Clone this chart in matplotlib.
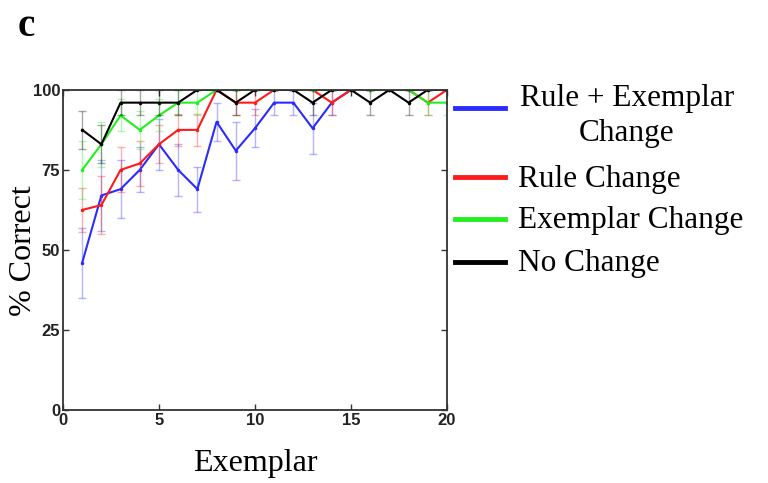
import numpy as np
import matplotlib.pyplot as plt
from matplotlib.lines import Line2D

# Data
exemplar = np.arange(1, 21)

rule_exemplar = [46, 67, 69, 75, 83, 75, 69, 90, 81, 88, 96, 96, 88, 96, 100, 100, 100, 100, 100, 100]
rule_exemplar_err = [11, 11, 9, 7, 8, 8, 7, 6, 9, 6, 4, 4, 8, 4, 0, 0, 0, 0, 0, 0]

rule = [62.5, 64, 75, 77, 83, 87.5, 87.5, 100, 96, 96, 100, 100, 100, 96, 100, 100, 100, 100, 96, 100]
rule_err = [7, 9, 7, 7, 6, 5, 5, 0, 4, 4, 0, 0, 0, 4, 0, 0, 0, 0, 4, 0]

exemplar_only = [75, 83, 92, 87.5, 92, 96, 96, 100, 100, 100, 100, 100, 100, 100, 100, 100, 100, 100, 96, 96]
exemplar_only_err = [9, 7, 5, 6, 5, 4, 4, 0, 0, 0, 0, 0, 0, 0, 0, 0, 0, 0, 4, 4]

no_change = [87.5, 83, 96, 96, 96, 96, 100, 100, 96, 100, 100, 100, 96, 100, 100, 96, 100, 96, 100, 100]
no_change_err = [6, 6, 4, 4, 4, 4, 0, 0, 4, 0, 0, 0, 4, 0, 0, 4, 0, 4, 0, 0]

series = [
    (rule_exemplar, rule_exemplar_err, '#2b2bff', 'Rule + Exemplar\nChange'),
    (rule, rule_err, '#ff1a1a', 'Rule Change'),
    (exemplar_only, exemplar_only_err, '#22ee22', 'Exemplar Change'),
    (no_change, no_change_err, 'black', 'No Change'),
]

fig = plt.figure(figsize=(7.68, 4.83), dpi=100)
ax = fig.add_axes([0.082, 0.151, 0.5, 0.663])

for vals, err, col, lab in series:
    ax.errorbar(exemplar, vals, yerr=err, fmt='none', ecolor=col, alpha=0.35,
                capsize=3, elinewidth=1)
    ax.plot(exemplar, vals, color=col, lw=1.5, marker='.', ms=3)

ax.set_xlim(0, 20)
ax.set_ylim(0, 100)
ax.set_xticks([0, 5, 10, 15, 20])
ax.set_yticks([0, 25, 50, 75, 100])
ax.tick_params(direction='in', top=True, right=True, length=4, width=1,
               labelsize=12, pad=2, colors='#333333')
for lbl in ax.get_xticklabels() + ax.get_yticklabels():
    lbl.set_family('Liberation Sans')
    lbl.set_fontweight('semibold')
    lbl.set_color('#222222')
for s in ax.spines.values():
    s.set_linewidth(1.3)
    s.set_color('#333333')

W, H = 768, 483
# axis labels
fig.text(255 / W, 1 - 464 / H, 'Exemplar', family='Liberation Serif',
         fontsize=23, ha='center', va='center')
fig.text(24 / W, 1 - 251 / H, '% Correct', family='Liberation Serif',
         fontsize=23, ha='center', va='center', rotation=90)

# panel letter
fig.text(26 / W, 1 - 27 / H, 'c', family='Liberation Serif', fontsize=28,
         fontweight='bold', ha='center', va='center')

# legend drawn by hand
leg_y = [108, 177, 219, 262]
txt_y = [116, 180, 221, 264]
for (vals, err, col, lab), ly, ty in zip(series, leg_y, txt_y):
    fig.add_artist(Line2D([455 / W, 505 / W], [1 - ly / H, 1 - ly / H],
                          color=col, lw=3.5))
    if '\n' in lab:
        fig.text(627 / W, 1 - ty / H, lab, family='Liberation Serif', fontsize=22.5,
                 ha='center', va='center', linespacing=1.3)
    else:
        fig.text(518 / W, 1 - ty / H, lab, family='Liberation Serif', fontsize=22.5,
                 ha='left', va='center')

fig.savefig('out.png', dpi=100)
